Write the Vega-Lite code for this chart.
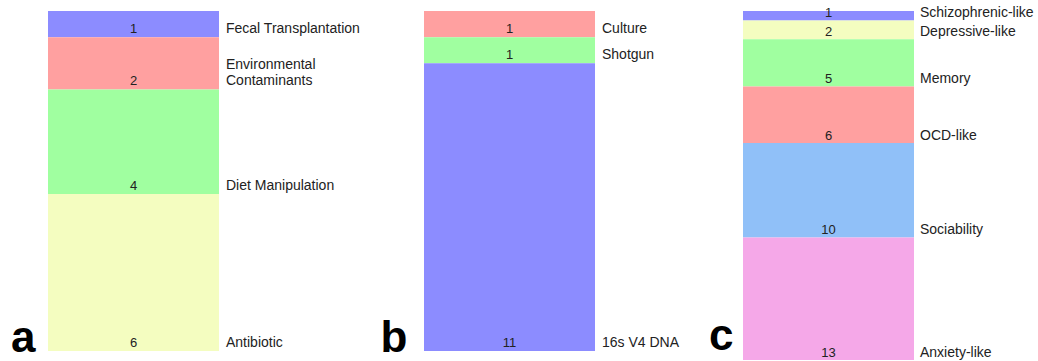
{
  "$schema": "https://vega.github.io/schema/vega-lite/v6.json",
  "padding": {"left": 10, "top": 6, "right": 0, "bottom": 0},
  "spacing": 10,
  "bounds": "flush",
  "background": "white",
  "config": {
    "view": {"stroke": null},
    "font": "Liberation Sans",
    "text": {"font": "Liberation Sans", "color": "#222222"}
  },
  "resolve": {"scale": {"color": "independent", "y": "independent", "x": "independent"}},
  "datasets": {
    "a": [
      {"panel": "a", "label": "Fecal Transplantation", "n": 1, "rank": 1},
      {"panel": "a", "label": "Environmental\nContaminants", "n": 2, "rank": 2},
      {"panel": "a", "label": "Diet Manipulation", "n": 4, "rank": 3},
      {"panel": "a", "label": "Antibiotic", "n": 6, "rank": 4}
    ],
    "b": [
      {"panel": "b", "label": "Culture", "n": 1, "rank": 1},
      {"panel": "b", "label": "Shotgun", "n": 1, "rank": 2},
      {"panel": "b", "label": "16s V4 DNA", "n": 11, "rank": 3}
    ],
    "c": [
      {"panel": "c", "label": "Schizophrenic-like", "n": 1, "rank": 1},
      {"panel": "c", "label": "Depressive-like", "n": 2, "rank": 2},
      {"panel": "c", "label": "Memory", "n": 5, "rank": 3},
      {"panel": "c", "label": "OCD-like", "n": 6, "rank": 4},
      {"panel": "c", "label": "Sociability", "n": 10, "rank": 5},
      {"panel": "c", "label": "Anxiety-like", "n": 13, "rank": 6}
    ]
  },
  "hconcat": [
    {
      "width": 366, "height": 340,
      "data": {"name": "a"},
      "transform": [{"stack": "n", "groupby": ["panel"], "sort": [{"field": "rank", "order": "ascending"}], "as": ["y0", "y1"]}],
      "encoding": {
        "x": {"field": "panel", "type": "nominal", "axis": null, "scale": {"range": [0, 171], "paddingInner": 0, "paddingOuter": 0}},
        "y": {"field": "y1", "type": "quantitative",
          "scale": {"reverse": true, "domain": [0, 13], "nice": false},
          "axis": {"title": "a", "labels": false, "ticks": false, "domain": false, "grid": false,
            "titleAngle": 0, "titleFontSize": 44, "titleFontWeight": "bold", "titleFont": "Liberation Sans", "titleColor": "#000000",
            "titleX": -13, "titleY": 340, "titleAlign": "right", "titleBaseline": "alphabetic"}}
      },
      "layer": [
        {"mark": {"type": "bar"},
         "encoding": {"y2": {"field": "y0"},
           "color": {"field": "label", "type": "nominal", "legend": null,
           "scale": {"domain": ["Fecal Transplantation", "Environmental\nContaminants", "Diet Manipulation", "Antibiotic"],
                     "range": ["#8C8CFF", "#FFA0A0", "#A0FFA0", "#F4FDC0"]}}}},
        {"mark": {"type": "text", "fontSize": 13, "baseline": "alphabetic", "dy": -4},
         "encoding": {"text": {"field": "n", "type": "quantitative"}}},
        {"transform": [{"filter": "datum.rank != 2"}],
         "mark": {"type": "text", "fontSize": 14, "align": "left", "baseline": "alphabetic", "dx": 7, "dy": -4},
         "encoding": {"x": {"field": "panel", "type": "nominal", "bandPosition": 1}, "text": {"field": "label", "type": "nominal"}}},
        {"transform": [{"filter": "datum.rank == 2"}],
         "mark": {"type": "text", "fontSize": 14, "align": "left", "baseline": "alphabetic", "dx": 7, "dy": -20, "lineBreak": "\n", "lineHeight": 16},
         "encoding": {"x": {"field": "panel", "type": "nominal", "bandPosition": 1}, "text": {"field": "label", "type": "nominal"}}}
      ]
    },
    {
      "width": 309, "height": 340,
      "data": {"name": "b"},
      "transform": [{"stack": "n", "groupby": ["panel"], "sort": [{"field": "rank", "order": "ascending"}], "as": ["y0", "y1"]}],
      "encoding": {
        "x": {"field": "panel", "type": "nominal", "axis": null, "scale": {"range": [0, 171], "paddingInner": 0, "paddingOuter": 0}},
        "y": {"field": "y1", "type": "quantitative",
          "scale": {"reverse": true, "domain": [0, 13], "nice": false},
          "axis": {"title": "b", "labels": false, "ticks": false, "domain": false, "grid": false,
            "titleAngle": 0, "titleFontSize": 44, "titleFontWeight": "bold", "titleFont": "Liberation Sans", "titleColor": "#000000",
            "titleX": -17, "titleY": 340, "titleAlign": "right", "titleBaseline": "alphabetic"}}
      },
      "layer": [
        {"mark": {"type": "bar"},
         "encoding": {"y2": {"field": "y0"},
           "color": {"field": "label", "type": "nominal", "legend": null,
           "scale": {"domain": ["Culture", "Shotgun", "16s V4 DNA"],
                     "range": ["#FFA0A0", "#A0FFA0", "#8C8CFF"]}}}},
        {"mark": {"type": "text", "fontSize": 13, "baseline": "alphabetic", "dy": -4},
         "encoding": {"text": {"field": "n", "type": "quantitative"}}},
        {"mark": {"type": "text", "fontSize": 14, "align": "left", "baseline": "alphabetic", "dx": 7, "dy": -4},
         "encoding": {"x": {"field": "panel", "type": "nominal", "bandPosition": 1}, "text": {"field": "label", "type": "nominal"}}}
      ]
    },
    {
      "width": 285, "height": 349,
      "data": {"name": "c"},
      "transform": [{"stack": "n", "groupby": ["panel"], "sort": [{"field": "rank", "order": "ascending"}], "as": ["y0", "y1"]}],
      "encoding": {
        "x": {"field": "panel", "type": "nominal", "axis": null, "scale": {"range": [0, 171], "paddingInner": 0, "paddingOuter": 0}},
        "y": {"field": "y1", "type": "quantitative",
          "scale": {"reverse": true, "domain": [0, 37], "nice": false},
          "axis": {"title": "c", "labels": false, "ticks": false, "domain": false, "grid": false,
            "titleAngle": 0, "titleFontSize": 44, "titleFontWeight": "bold", "titleFont": "Liberation Sans", "titleColor": "#000000",
            "titleX": -10, "titleY": 338, "titleAlign": "right", "titleBaseline": "alphabetic"}}
      },
      "layer": [
        {"mark": {"type": "bar"},
         "encoding": {"y2": {"field": "y0"},
           "color": {"field": "label", "type": "nominal", "legend": null,
           "scale": {"domain": ["Schizophrenic-like", "Depressive-like", "Memory", "OCD-like", "Sociability", "Anxiety-like"],
                     "range": ["#8C8CFF", "#F4FDC0", "#A0FFA0", "#FFA0A0", "#90C0F8", "#F5A8E8"]}}}},
        {"mark": {"type": "text", "fontSize": 13, "baseline": "alphabetic", "dy": -3},
         "encoding": {"text": {"field": "n", "type": "quantitative"}}},
        {"mark": {"type": "text", "fontSize": 14, "align": "left", "baseline": "alphabetic", "dx": 6, "dy": -3},
         "encoding": {"x": {"field": "panel", "type": "nominal", "bandPosition": 1}, "text": {"field": "label", "type": "nominal"}}}
      ]
    }
  ]
}
